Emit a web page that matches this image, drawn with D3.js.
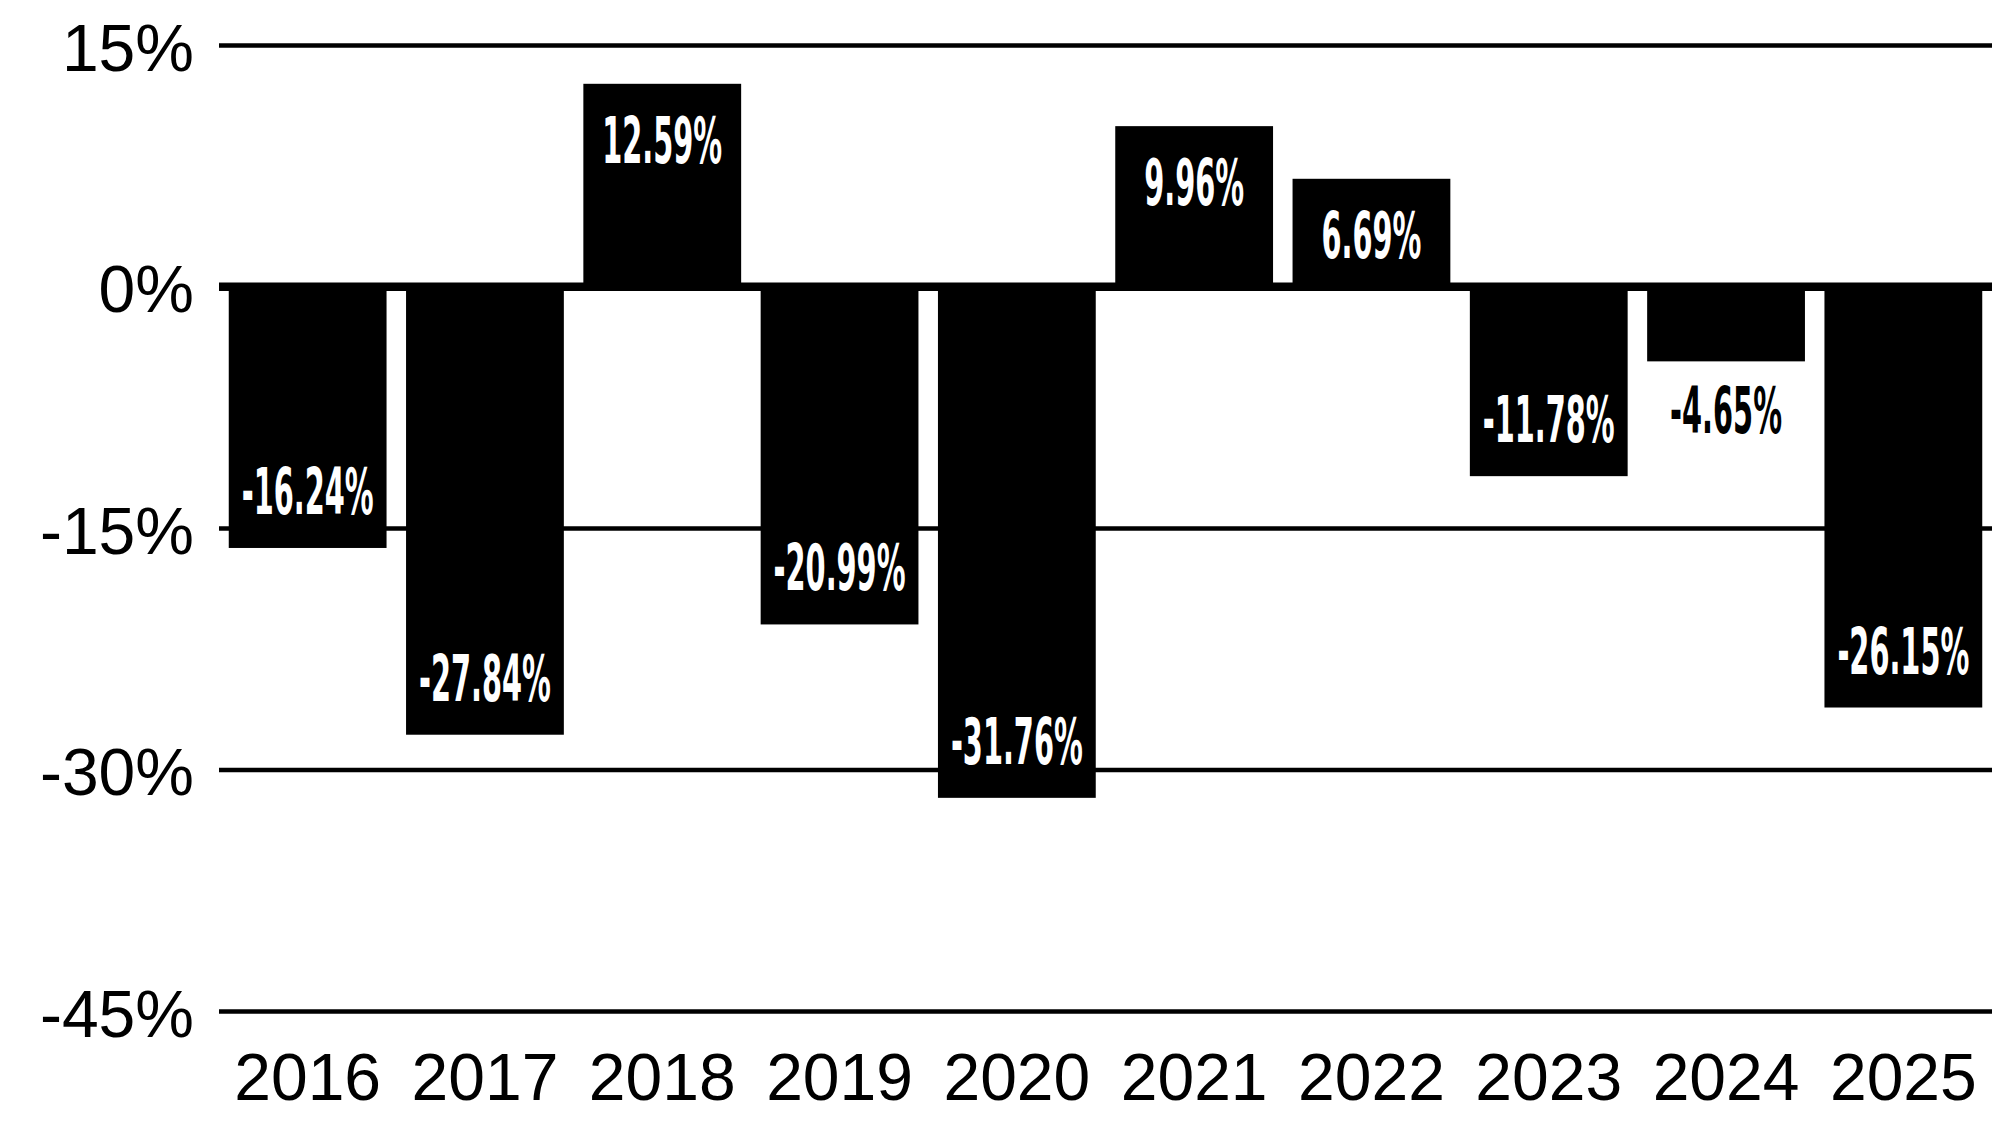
<!DOCTYPE html>
<html>
<head>
<meta charset="utf-8">
<script src="https://cdn.jsdelivr.net/npm/d3@7"></script>
<style>
  html, body { margin: 0; padding: 0; background: #fff; }
  svg { display: block; }
  .axis text { font-family: "Liberation Sans", Arial, sans-serif; font-size: 66px; fill: #000; }
  .value-label { font-family: "DejaVu Sans Condensed", "DejaVu Sans", sans-serif; font-weight: bold; font-size: 64px; }
</style>
</head>
<body>
<svg id="chart"></svg>
<script>
const years = ['2016', '2017', '2018', '2019', '2020', '2021', '2022', '2023', '2024', '2025'];
const returns = [-16.24, -27.84, 12.59, -20.99, -31.76, 9.96, 6.69, -11.78, -4.65, -26.15];
const yTicks = [15, 0, -15, -30, -45];

const width = 1992;
const height = 1125;
const left = 219;

const svg = d3.select('#chart').attr('width', width).attr('height', height);

const x = d3.scaleBand()
    .domain(years)
    .range([left, width])
    .paddingInner(0.11)
    .paddingOuter(0.055);

const y = d3.scaleLinear()
    .domain([-45, 15])
    .range([1011, 45]);

// gridlines + y labels
const yAxis = svg.append('g')
    .attr('class', 'axis y-axis')
    .attr('transform', `translate(${left},0)`)
    .call(d3.axisLeft(y)
        .tickValues(yTicks)
        .tickSize(-(width - left))
        .tickPadding(25)
        .tickFormat(d => d + '%'));

yAxis.select('.domain').remove();
yAxis.selectAll('.tick line')
    .attr('stroke', '#000')
    .attr('stroke-width', d => d === 0 ? 8 : 4.5);
yAxis.selectAll('.tick text').attr('dy', '0.38em');

// bars
svg.append('g')
    .selectAll('rect')
    .data(returns)
    .enter()
    .append('rect')
    .attr('x', (d, i) => x(years[i]))
    .attr('width', x.bandwidth())
    .attr('y', d => Math.min(y(d), y(0)))
    .attr('height', d => Math.abs(y(d) - y(0)))
    .attr('fill', '#000');

// zero line on top of bars
svg.append('line')
    .attr('x1', left)
    .attr('x2', width)
    .attr('y1', y(0))
    .attr('y2', y(0))
    .attr('stroke', '#000')
    .attr('stroke-width', 8);

// x labels
const xAxis = svg.append('g')
    .attr('class', 'axis x-axis')
    .attr('transform', `translate(0,${y(-45)})`)
    .call(d3.axisBottom(x).tickSize(0).tickPadding(42));
xAxis.select('.domain').remove();

// value labels (condensed look: squeeze horizontally)
const isInside = d => Math.abs(y(d) - y(0)) > 100;

const labels = svg.append('g')
    .selectAll('text')
    .data(returns)
    .enter()
    .append('text')
    .attr('class', 'value-label')
    .attr('text-anchor', 'middle')
    .attr('fill', d => isInside(d) ? '#fff' : '#000')
    .text(d => d.toFixed(2) + '%');

// "12.59%" is about 120px wide in the reference
const sample = labels.filter(d => d === 12.59).node().getComputedTextLength();
const squeeze = 120 / sample;

labels.attr('transform', (d, i) => {
    const cx = x(years[i]) + x.bandwidth() / 2;
    let base;
    if (d >= 0) base = y(d) + 79;
    else if (isInside(d)) base = y(d) - 34;
    else base = y(d) + 72;
    return `translate(${cx},${base}) scale(${squeeze},1)`;
});
</script>
</body>
</html>
